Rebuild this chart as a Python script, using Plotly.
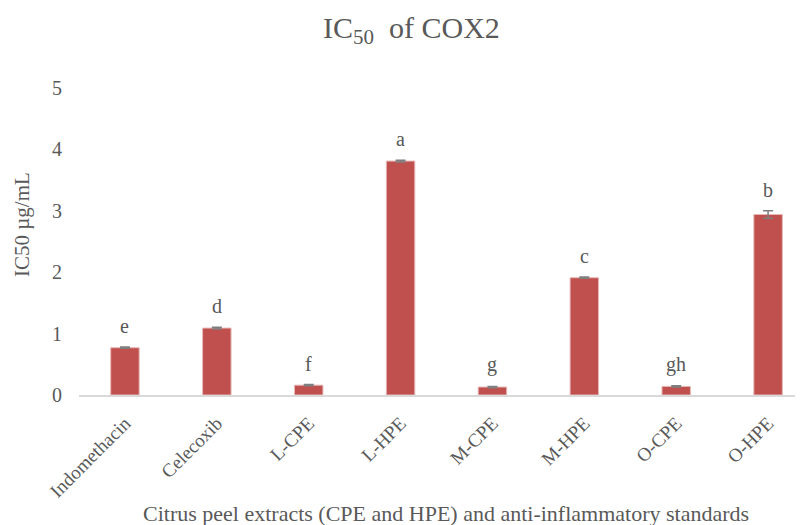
import plotly.graph_objects as go

categories = ["Indomethacin", "Celecoxib", "L-CPE", "L-HPE", "M-CPE", "M-HPE", "O-CPE", "O-HPE"]
values = [0.77, 1.09, 0.16, 3.81, 0.13, 1.91, 0.14, 2.94]
errors = [0.01, 0.015, 0.01, 0.015, 0.01, 0.01, 0.01, 0.06]
letters = ["e", "d", "f", "a", "g", "c", "gh", "b"]

FONT = "Liberation Serif, Times New Roman, serif"
GRAY = "#595959"

fig = go.Figure()
fig.add_trace(go.Bar(
    x=list(range(len(categories))), y=values,
    width=0.31,
    marker=dict(color="#C0504D", line=dict(color="#E6B9B8", width=1)),
    error_y=dict(type="data", array=errors, visible=True, color="#7F7F7F", thickness=1.5, width=5),
    hoverinfo="skip",
))

for i, (v, e, t) in enumerate(zip(values, errors, letters)):
    fig.add_annotation(x=i, y=v + e, text=t, showarrow=False, yanchor="bottom", yshift=8,
                       font=dict(family=FONT, size=20, color=GRAY))

# Titles as annotations for exact placement (plot area spans x 79..803, y 88..395 on screen)
fig.add_annotation(text="IC<sub>50</sub>  of COX2", xref="paper", yref="paper", x=(411 - 79) / 724, y=(395 - 30) / 307,
                   xanchor="center", yanchor="middle", showarrow=False,
                   font=dict(family=FONT, size=30, color=GRAY))
fig.add_annotation(text="IC50 µg/mL", xref="paper", yref="paper", x=(22 - 79) / 724, y=(395 - 225) / 307,
                   xanchor="center", yanchor="middle", textangle=-90, showarrow=False,
                   font=dict(family=FONT, size=21, color=GRAY))
fig.add_annotation(text="Citrus peel extracts (CPE and HPE) and anti-inflammatory standards",
                   xref="paper", yref="paper", x=(446 - 79) / 724, y=(395 - 513) / 307,
                   xanchor="center", yanchor="middle", showarrow=False,
                   font=dict(family=FONT, size=22, color=GRAY))

# page body adds an 8px offset, so the figure is drawn 8px smaller with margins shifted
fig.update_layout(
    width=795, height=517,
    margin=dict(l=71, r=0, t=80, b=130, autoexpand=False),
    paper_bgcolor="white", plot_bgcolor="white",
    showlegend=False,
    font=dict(family=FONT, color=GRAY),
)
fig.update_xaxes(
    range=[-0.5, 7.38], tickmode="array", tickvals=list(range(len(categories))), ticktext=categories,
    tickangle=-45, tickfont=dict(family=FONT, size=19, color=GRAY), showgrid=False,
    showline=True, linecolor="#D9D9D9", linewidth=1.5, ticks="", automargin=False,
    ticklabelstandoff=8,
)
fig.update_yaxes(
    range=[0, 5], tickvals=[0, 1, 2, 3, 4, 5], showgrid=False, zeroline=False, showline=False,
    tickfont=dict(family=FONT, size=20, color=GRAY), ticklabelstandoff=16, automargin=False,
)
fig.write_html("out.html")
